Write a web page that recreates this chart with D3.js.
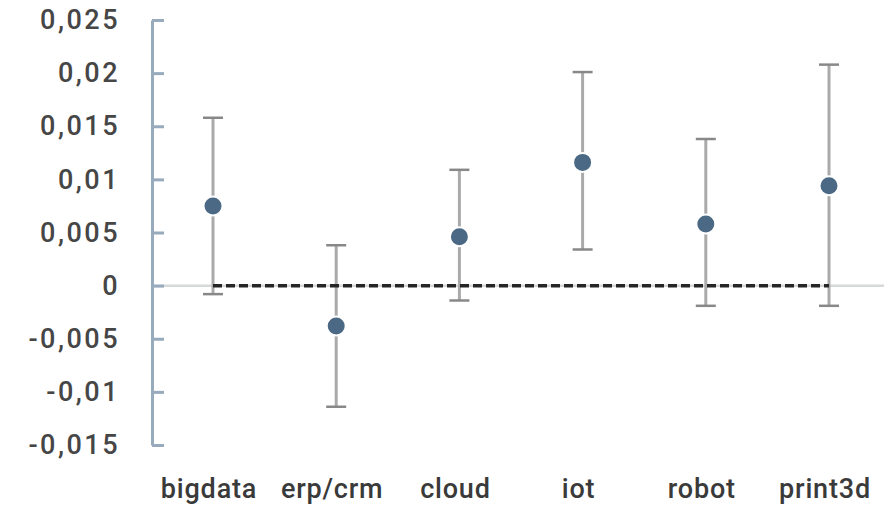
<!DOCTYPE html>
<html>
<head>
<meta charset="utf-8">
<script src="https://cdn.jsdelivr.net/npm/d3@7"></script>
<style>
  body { margin: 0; background: #fff; }
  svg { display: block; }
</style>
</head>
<body>
<div id="chart"></div>
<script>
var categories = ["bigdata", "erp/crm", "cloud", "iot", "robot", "print3d"];
var estimate = [0.0075, -0.0038, 0.0046, 0.0116, 0.0058, 0.0094];
var lower    = [-0.0008, -0.0114, -0.0014, 0.0034, -0.0019, -0.0019];
var upper    = [0.0158, 0.0038, 0.0109, 0.0201, 0.0138, 0.0208];
var yTicks   = [-0.015, -0.01, -0.005, 0, 0.005, 0.01, 0.015, 0.02, 0.025];

var W = 884, H = 506;

var svg = d3.select("#chart").append("svg")
	.attr("width", W)
	.attr("height", H);

var y = d3.scaleLinear().domain([-0.015, 0.025]).range([445, 20]);
var x = d3.scalePoint().domain(categories).range([213, 829]);

var data = categories.map(function(c, i){
	return {cat: c, est: estimate[i], lo: lower[i], hi: upper[i]};
});

// zero reference line
svg.append("line")
	.attr("x1", 152).attr("x2", W)
	.attr("y1", y(0)).attr("y2", y(0))
	.attr("stroke", "#d6d9d9")
	.attr("stroke-width", 2.5);

// y axis
var yAxis = d3.axisLeft(y)
	.tickValues(yTicks)
	.tickSizeInner(-12)
	.tickSizeOuter(0)
	.tickPadding(32)
	.tickFormat(function(d){
		return d === 0 ? "0" : String(+d.toFixed(3)).replace(".", ",");
	});

var gy = svg.append("g")
	.attr("transform", "translate(152,0)")
	.call(yAxis);

gy.select(".domain").attr("stroke", "#97abbd").attr("stroke-width", 3);
gy.selectAll(".tick line").attr("stroke", "#97abbd").attr("stroke-width", 3);
gy.selectAll(".tick text")
	.attr("fill", "#464646")
	.style("font-family", "Roboto, sans-serif")
	.style("font-weight", 500)
	.style("font-size", "27px")
	.style("letter-spacing", "2.5px");

// error bars
var bars = svg.append("g").selectAll(".bar").data(data).enter().append("g");

bars.append("line")
	.attr("x1", function(d){ return x(d.cat); })
	.attr("x2", function(d){ return x(d.cat); })
	.attr("y1", function(d){ return y(d.lo); })
	.attr("y2", function(d){ return y(d.hi); })
	.attr("stroke", "#aaa")
	.attr("stroke-width", 3);

bars.selectAll(".cap")
	.data(function(d){ return [{cat: d.cat, v: d.lo}, {cat: d.cat, v: d.hi}]; })
	.enter().append("line")
	.attr("class", "cap")
	.attr("x1", function(d){ return x(d.cat) - 10; })
	.attr("x2", function(d){ return x(d.cat) + 10; })
	.attr("y1", function(d){ return y(d.v); })
	.attr("y2", function(d){ return y(d.v); })
	.attr("stroke", "#888")
	.attr("stroke-width", 2.5);

// dashed zero line between first and last category
svg.append("line")
	.attr("x1", x(categories[0]))
	.attr("x2", x(categories[categories.length - 1]))
	.attr("y1", y(0)).attr("y2", y(0))
	.attr("stroke", "#262626")
	.attr("stroke-width", 3.5)
	.attr("stroke-dasharray", "9,4");

// points
svg.append("g").selectAll("circle").data(data).enter().append("circle")
	.attr("cx", function(d){ return x(d.cat); })
	.attr("cy", function(d){ return y(d.est); })
	.attr("r", 9.5)
	.attr("fill", "#4b6984")
	.attr("stroke", "#fff")
	.attr("stroke-width", 2);

// category labels
svg.append("g").selectAll("text").data(categories).enter().append("text")
	.attr("x", function(d){ return x(d) - 4; })
	.attr("y", 498)
	.attr("text-anchor", "middle")
	.attr("fill", "#3a3a3a")
	.style("font-family", "Roboto, sans-serif")
	.style("font-weight", 500)
	.style("font-size", "27px")
	.style("letter-spacing", "0.8px")
	.text(function(d){ return d; });
</script>
</body>
</html>
